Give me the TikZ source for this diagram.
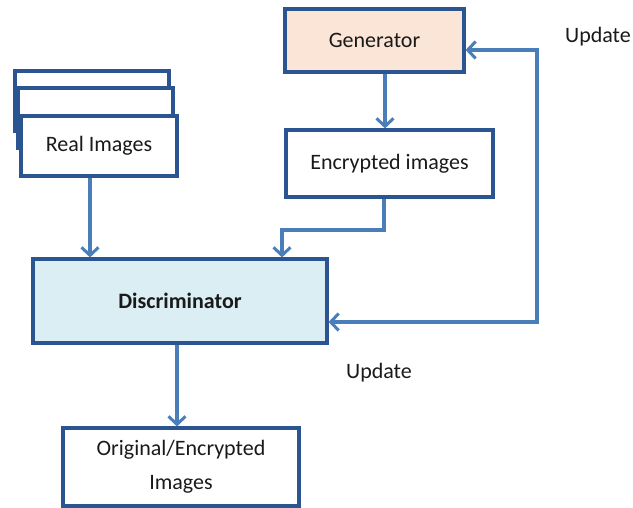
\documentclass[tikz,border=0pt]{standalone}
\usepackage{fontspec}
\setmainfont{Carlito}
\usetikzlibrary{arrows.meta}
\definecolor{boxline}{HTML}{2A5590}
\definecolor{arrline}{HTML}{4A7EBB}
\definecolor{genfill}{HTML}{FBE5D6}
\definecolor{discfill}{HTML}{DAEEF3}
\definecolor{txt}{HTML}{1A1A1A}
\begin{document}
\begin{tikzpicture}[x=1pt,y=-1pt,
  box/.style={draw=boxline,line width=3.2pt,fill=white,rectangle,inner sep=0pt,text=txt,
    font=\fontsize{22}{34}\selectfont,align=center},
  tip/.tip={Straight Barb[length=8pt,width=17pt,line width=3pt]},
  conn/.style={draw=arrline,line width=3.2pt,-tip},
  lbl/.style={text=txt,font=\fontsize{22}{26}\selectfont}]
\useasboundingbox (0,0) rectangle (633,508);
% stacked real images
\node[box,minimum width=154pt,minimum height=60pt] (back) at (92,101) {};
\node[box,minimum width=155pt,minimum height=60pt] (mid) at (95.5,118) {};
\node[box,minimum width=156pt,minimum height=60pt] (real) at (99,146) {Real Images};
% generator and encrypted
\node[box,fill=genfill,minimum width=179pt,minimum height=63pt] (gen) at (374.5,40.5) {Generator};
\node[box,minimum width=207pt,minimum height=67pt] (enc) at (389.5,163.5) {Encrypted images};
% discriminator
\node[box,fill=discfill,minimum width=294pt,minimum height=84pt,font=\fontsize{22}{26}\selectfont\bfseries] (disc) at (180,301) {Discriminator};
% output
\node[box,minimum width=236pt,minimum height=78pt] (out) at (181,467) {Original/Encrypted\\Images};
% labels
\node[lbl] (upd1) at (598,37) {Update};
\node[lbl] (upd2) at (379,373) {Update};
% connectors
\coordinate (bend) at (282,230);
\coordinate (loopc) at (537,322);
\draw[conn] ([xshift=-9pt]real.south) -- ([xshift=-9pt]real.south |- disc.north);
\draw[conn] ([xshift=10.5pt]gen.south) -- ([xshift=10.5pt]gen.south |- enc.north);
\draw[conn] ([xshift=-5.5pt]enc.south) |- (bend) -- (bend |- disc.north);
\draw[conn] ([xshift=-3pt]disc.south) -- ([xshift=-3pt]disc.south |- out.north);
\draw[conn,tip-tip] ([yshift=-9.5pt]gen.east) -| (loopc) -- (loopc -| disc.east);
\end{tikzpicture}
\end{document}
